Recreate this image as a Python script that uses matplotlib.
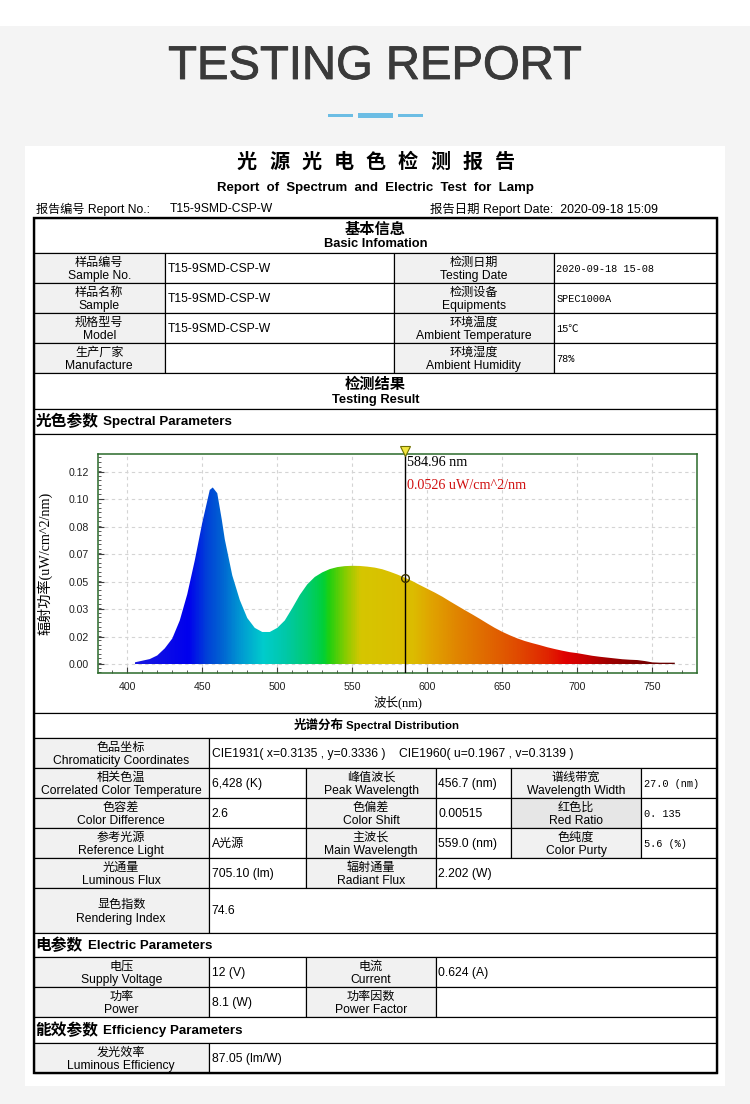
import numpy as np
import matplotlib
matplotlib.use("Agg")
import matplotlib.pyplot as plt
import matplotlib.patheffects as pe
from matplotlib.patches import Rectangle, Polygon
from matplotlib.colors import LinearSegmentedColormap, Normalize
from matplotlib.ticker import FixedLocator, FixedFormatter, MultipleLocator

# ---------------- data ----------------
wavelength_nm = [405, 410, 415, 420, 425, 430, 435, 440, 445, 450, 455, 457, 460, 463, 465,
                 470, 475, 480, 485, 490, 495, 500, 505, 510, 515, 520, 525, 530, 535, 540,
                 545, 550, 555, 560, 565, 570, 575, 580, 585, 590, 595, 600, 605, 610, 615,
                 620, 625, 630, 635, 640, 645, 650, 655, 660, 665, 670, 675, 680, 685, 690,
                 695, 700, 705, 710, 715, 720, 725, 730, 735, 740, 745, 750, 755, 760, 765]
irradiance = [0.0010, 0.0020, 0.0030, 0.0052, 0.0095, 0.0155, 0.0265, 0.0425, 0.0630, 0.0860,
              0.1060, 0.1075, 0.1040, 0.0880, 0.0760, 0.0540, 0.0390, 0.0280, 0.0220, 0.0195,
              0.0195, 0.0220, 0.0265, 0.0340, 0.0420, 0.0485, 0.0530, 0.0558, 0.0578, 0.0590,
              0.0596, 0.0598, 0.0597, 0.0593, 0.0587, 0.0577, 0.0562, 0.0545, 0.0526, 0.0505,
              0.0481, 0.0458, 0.0435, 0.0410, 0.0382, 0.0355, 0.0328, 0.0302, 0.0275, 0.0247,
              0.0220, 0.0196, 0.0175, 0.0156, 0.0140, 0.0127, 0.0115, 0.0102, 0.0091, 0.0081,
              0.0072, 0.0066, 0.0058, 0.0050, 0.0044, 0.0039, 0.0034, 0.0029, 0.0026, 0.0024,
              0.0018, 0.0010, 0.0008, 0.0008, 0.0008]
xtick_values = [400, 450, 500, 550, 600, 650, 700, 750]
ytick_values = [0.0, 0.0167, 0.0334, 0.0501, 0.0668, 0.0835, 0.1002, 0.1169]
ytick_labels = ["0.00", "0.02", "0.03", "0.05", "0.07", "0.08", "0.10", "0.12"]
cursor_wavelength = 584.96
cursor_value = 0.0526

report_no = "T15-9SMD-CSP-W"
report_date = "2020-09-18 15:09"

basic_rows = [
    ("样品编号", "Sample No.", "T15-9SMD-CSP-W", "检测日期", "Testing Date", "2020-09-18 15-08"),
    ("样品名称", "Sample", "T15-9SMD-CSP-W", "检测设备", "Equipments", "SPEC1000A"),
    ("规格型号", "Model", "T15-9SMD-CSP-W", "环境温度", "Ambient Temperature", "15℃"),
    ("生产厂家", "Manufacture", "", "环境湿度", "Ambient Humidity", "78%"),
]

spectral_rows = [
    [("色品坐标", "Chromaticity Coordinates"),
     "CIE1931( x=0.3135 , y=0.3336 )    CIE1960( u=0.1967 , v=0.3139 )"],
    [("相关色温", "Correlated Color Temperature"), "6,428 (K)",
     ("峰值波长", "Peak Wavelength"), "456.7 (nm)",
     ("谱线带宽", "Wavelength Width"), "27.0 (nm)"],
    [("色容差", "Color Difference"), "2.6",
     ("色偏差", "Color Shift"), "0.00515",
     ("红色比", "Red Ratio"), "0. 135"],
    [("参考光源", "Reference Light"), "A光源",
     ("主波长", "Main Wavelength"), "559.0 (nm)",
     ("色纯度", "Color Purty"), "5.6 (%)"],
    [("光通量", "Luminous Flux"), "705.10 (lm)",
     ("辐射通量", "Radiant Flux"), "2.202 (W)"],
    [("显色指数", "Rendering Index"), "74.6"],
]
mono_values = {"2020-09-18 15-08", "SPEC1000A", "15℃", "78%", "27.0 (nm)", "0. 135", "5.6 (%)"}

electric_rows = [
    [("电压", "Supply Voltage"), "12 (V)", ("电流", "Current"), "0.624 (A)"],
    [("功率", "Power"), "8.1 (W)", ("功率因数", "Power Factor"), ""],
]
efficiency_rows = [
    [("发光效率", "Luminous Efficiency"), "87.05 (lm/W)"],
]

# ---------------- styling ----------------
SANS = ['Liberation Sans', 'Noto Sans CJK SC', 'DejaVu Sans']
CJK = ['Noto Sans CJK SC', 'DejaVu Sans']
MONO = ['Liberation Mono', 'DejaVu Sans Mono', 'Noto Sans CJK SC', 'DejaVu Sans']
SERIF = ['Liberation Serif', 'Noto Sans CJK SC', 'DejaVu Serif']
LABEL_FILL = '#f1f1f1'
LW = 0.85
FS = 8.7

fig = plt.figure(figsize=(7.5, 11.04), dpi=100)
fig.patch.set_facecolor('white')
bg = fig.add_axes([0, 0, 1, 1])
bg.set_xlim(0, 750)
bg.set_ylim(1104, 0)
bg.axis('off')

bg.add_patch(Rectangle((0, 26), 750, 1078, facecolor='#f4f4f4', edgecolor='none'))
bg.add_patch(Rectangle((25, 146), 700, 940, facecolor='white', edgecolor='none'))

def txt(x, y, s, size=FS, weight='normal', ha='center', va='center', fam=SANS, color='black', **kw):
    return bg.text(x, y, s, fontsize=size, fontweight=weight, ha=ha, va=va, family=fam,
                   color=color, **kw)

# page title
txt(375, 67, "TESTING REPORT", size=34, fam=['Liberation Sans'], color='#3a3a3a',
    path_effects=[pe.withStroke(linewidth=0.6, foreground='#3a3a3a')])
bg.add_patch(Rectangle((328, 113.5), 24.5, 3, facecolor='#6cbde4', edgecolor='none'))
bg.add_patch(Rectangle((358, 112.5), 35, 5, facecolor='#6cbde4', edgecolor='none'))
bg.add_patch(Rectangle((398, 113.5), 25, 3, facecolor='#6cbde4', edgecolor='none'))

# report title
title_chars = "光源光电色检测报告"
for i, ch in enumerate(title_chars):
    txt(247 + i * 32.2, 161, ch, size=14.5, weight='bold', fam=CJK)
txt(375.5, 188, "Report  of  Spectrum  and  Electric  Test  for  Lamp", size=9.5,
    weight='bold', fam=SANS)
txt(36, 209, "报告编号 Report No.:", size=8.7, ha='left')
txt(170, 209, report_no, size=8.7, ha='left')
txt(430, 209, "报告日期 Report Date:  " + report_date, size=8.9, ha='left')

X0, X1 = 33.5, 717

def cell(x0, x1, y0, y1, fill='white'):
    bg.add_patch(Rectangle((x0, y0), x1 - x0, y1 - y0, facecolor=fill,
                           edgecolor='black', linewidth=LW))

def label_cell(x0, x1, y0, y1, cn, en, fill=LABEL_FILL):
    cell(x0, x1, y0, y1, fill)
    yc = (y0 + y1) / 2
    txt((x0 + x1) / 2, yc - 5.8, cn, size=FS, fam=CJK)
    txt((x0 + x1) / 2, yc + 8.3, en, size=FS)

def value_cell(x0, x1, y0, y1, s):
    cell(x0, x1, y0, y1)
    fam = MONO if s in mono_values else SANS
    size = 7.4 if s in mono_values else FS
    txt(x0 + 2.5, (y0 + y1) / 2 + 0.8, s, size=size, ha='left', fam=fam)

# basic information header
cell(X0, X1, 218, 253)
txt(375.5, 228.5, "基本信息", size=11, weight='bold', fam=CJK)
txt(375.5, 244, "Basic Infomation", size=9.3, weight='bold')

bcols = [X0, 165, 393.5, 554, X1]
by = 253
for cn1, en1, v1, cn2, en2, v2 in basic_rows:
    label_cell(bcols[0], bcols[1], by, by + 30, cn1, en1)
    value_cell(bcols[1], bcols[2], by, by + 30, v1)
    label_cell(bcols[2], bcols[3], by, by + 30, cn2, en2)
    value_cell(bcols[3], bcols[4], by, by + 30, v2)
    by += 30

cell(X0, X1, 373, 409)
txt(375.5, 384, "检测结果", size=11, weight='bold', fam=CJK)
txt(375.5, 399.5, "Testing Result", size=9.3, weight='bold')

def section(y0, y1, cn, en, en_x):
    cell(X0, X1, y0, y1)
    yc = (y0 + y1) / 2
    txt(35.5, yc, cn, size=11.3, weight='bold', ha='left', fam=CJK)
    txt(en_x, yc + 0.8, en, size=9.6, weight='bold', ha='left')

section(409, 434, "光色参数", "Spectral Parameters", 103)
cell(X0, X1, 434, 713)

# spectral distribution
cell(X0, X1, 713, 738)
txt(344, 725.5, "光谱分布", size=9, weight='bold', ha='right', fam=CJK)
txt(346, 726, "Spectral Distribution", size=8.2, weight='bold', ha='left')

scols = [X0, 209, 306, 436, 511, 641, X1]
srows = [738, 768, 798, 828, 858, 888, 933]
for r, row in enumerate(spectral_rows):
    y0, y1 = srows[r], srows[r + 1]
    n = len(row)
    if n == 2:
        bounds = [(0, 1), (1, 6)]
    elif n == 4:
        bounds = [(0, 1), (1, 2), (2, 3), (3, 6)]
    else:
        bounds = [(0, 1), (1, 2), (2, 3), (3, 4), (4, 5), (5, 6)]
    for item, (a, b) in zip(row, bounds):
        if isinstance(item, tuple):
            fill = '#e6e6e6' if item[1] == "Red Ratio" else LABEL_FILL
            label_cell(scols[a], scols[b], y0, y1, item[0], item[1], fill)
        else:
            value_cell(scols[a], scols[b], y0, y1, item)

section(933, 957, "电参数", "Electric Parameters", 88)
erows = [957, 987, 1017]
for r, row in enumerate(electric_rows):
    y0, y1 = erows[r], erows[r + 1]
    for item, (a, b) in zip(row, [(0, 1), (1, 2), (2, 3), (3, 6)]):
        if isinstance(item, tuple):
            label_cell(scols[a], scols[b], y0, y1, item[0], item[1])
        else:
            value_cell(scols[a], scols[b], y0, y1, item)

section(1017, 1043, "能效参数", "Efficiency Parameters", 103)
for row in efficiency_rows:
    label_cell(scols[0], scols[1], 1043, 1073, row[0][0], row[0][1])
    value_cell(scols[1], scols[6], 1043, 1073, row[1])

bg.add_patch(Rectangle((X0, 218), X1 - X0, 1073 - 218, facecolor='none',
                       edgecolor='black', linewidth=1.7))

# ---------------- spectrum chart ----------------
W, H = 750.0, 1104.0
fl, fr, ft, fb = 98.3, 697.0, 454.3, 672.7
ax = fig.add_axes([fl / W, 1 - fb / H, (fr - fl) / W, (fb - ft) / H])
ax.set_facecolor('white')
ax.set_xlim(380.7, 779.8)
ax.set_ylim(-0.0053, 0.1277)

ax.set_axisbelow(True)
ax.grid(True, which='major', color='#d4d4d4', linestyle=(0, (3, 3)), linewidth=0.8)

anchor_nm = [405, 440, 452, 462, 475, 490, 505, 520, 530, 534, 545, 555, 590, 602,
             620, 640, 660, 680, 692, 705, 720, 740, 765]
anchor_col = ['#1818e0', '#0000ee', '#0040d8', '#0062d2', '#009ad2', '#00cccc', '#00c8a8',
              '#00cc70', '#00d038', '#20d010', '#88cc00', '#d6c600', '#dcbc00', '#e0a400',
              '#e08400', '#e06800', '#e04a00', '#e02400', '#e00000', '#c80000', '#a00000',
              '#800000', '#600000']
lo, hi = anchor_nm[0], anchor_nm[-1]
cmap = LinearSegmentedColormap.from_list(
    'spec', [((a - lo) / (hi - lo), c) for a, c in zip(anchor_nm, anchor_col)])
grad = np.linspace(lo, hi, 900)[None, :]
im = ax.imshow(grad, cmap=cmap, norm=Normalize(lo, hi), extent=[lo, hi, 0, 0.13],
               aspect='auto', origin='lower', interpolation='bilinear', zorder=2)
verts = list(zip(wavelength_nm, irradiance)) + [(wavelength_nm[-1], 0.0), (wavelength_nm[0], 0.0)]
clip = Polygon(verts, closed=True, facecolor='none', edgecolor='none', transform=ax.transData)
ax.add_patch(clip)
im.set_clip_path(clip)

ax.axvline(cursor_wavelength, color='black', linewidth=1.0, zorder=4)
ax.plot([cursor_wavelength], [cursor_value], marker='o', markersize=5.5, mfc='none',
        mec='#3a3000', mew=1.0, zorder=5)
ax.plot([cursor_wavelength], [1.014], marker='v', markersize=7, mfc='#f2e640', mec='#707000',
        mew=0.8, transform=ax.get_xaxis_transform(), clip_on=False, zorder=6)
ax.text(cursor_wavelength + 1.4, 0.1225, f"{cursor_wavelength:.2f} nm", fontsize=10.2,
        family=SERIF, color='black', va='center', ha='left', zorder=6)
ax.text(cursor_wavelength + 1.4, 0.1085, f"{cursor_value:.4f} uW/cm^2/nm", fontsize=10.2,
        family=SERIF, color='#d01010', va='center', ha='left', zorder=6)

ax.xaxis.set_major_locator(FixedLocator(xtick_values))
ax.xaxis.set_minor_locator(MultipleLocator(10))
ax.yaxis.set_major_locator(FixedLocator(ytick_values))
ax.yaxis.set_major_formatter(FixedFormatter(ytick_labels))
ax.yaxis.set_minor_locator(FixedLocator(np.arange(-0.005, 0.128, 0.0167 / 6)))
ax.tick_params(axis='both', which='major', direction='in', length=4, width=0.8,
               color='#404040', labelsize=7.6, labelcolor='#202020')
ax.tick_params(axis='both', which='minor', direction='in', length=2, width=0.6, color='#404040')
ax.tick_params(axis='x', which='major', pad=7)
ax.tick_params(axis='y', which='major', pad=7)
for lab in ax.get_xticklabels() + ax.get_yticklabels():
    lab.set_family(['Liberation Sans', 'DejaVu Sans'])
for sp in ax.spines.values():
    sp.set_color('#2a6a2a')
    sp.set_linewidth(1.1)

ax.set_xlabel("波长(nm)", fontsize=9, family=SERIF, labelpad=2)
ax.set_ylabel("辐射功率(uW/cm^2/nm)", fontsize=10.2, family=SERIF, labelpad=11)

fig.savefig("out.png", dpi=100, facecolor=fig.get_facecolor())
